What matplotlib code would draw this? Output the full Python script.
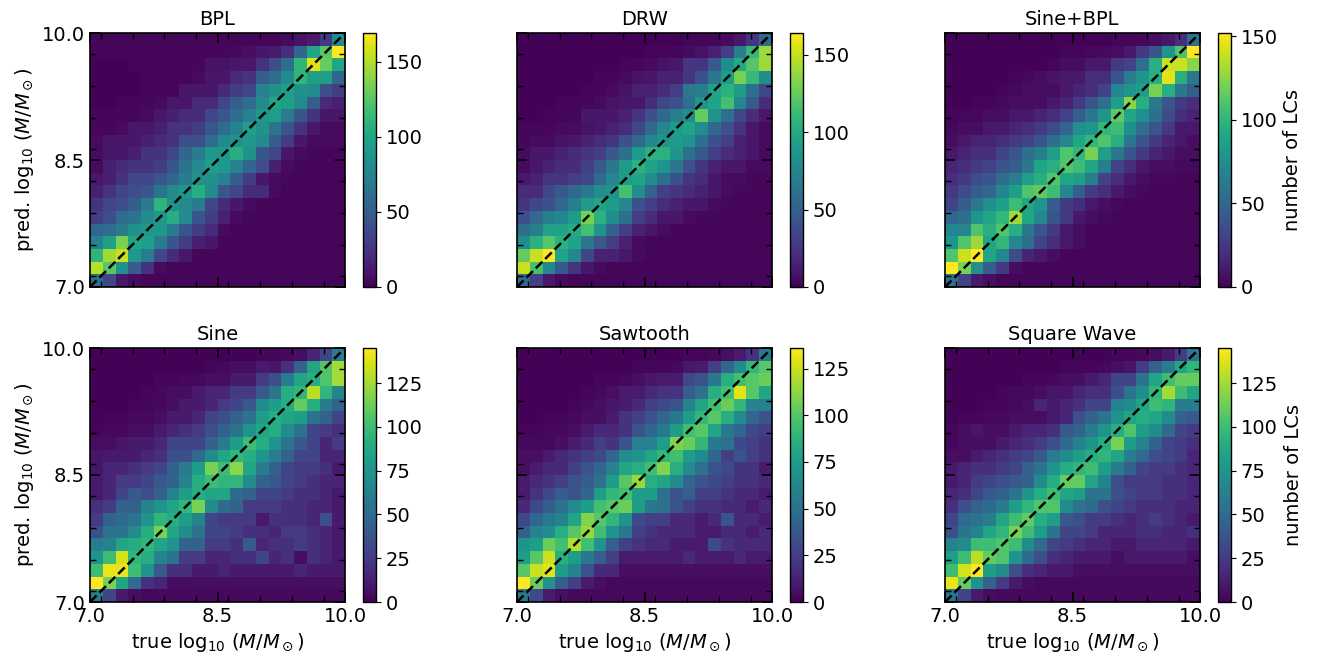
import numpy as np
import matplotlib
matplotlib.use('Agg')
from matplotlib import pyplot as plt
from matplotlib.ticker import MultipleLocator

# counts per 0.15 dex bin, rows listed from top (pred. 10.0) to bottom (pred. 7.0),
# columns from true 7.0 to true 10.0
titles = ['BPL', 'DRW', 'Sine+BPL', 'Sine', 'Sawtooth', 'Square Wave']

bpl = [
    [2, 2, 2, 2, 2, 2, 2, 2, 2, 2, 2, 2, 2, 2, 3, 5, 8, 12, 28, 80],
    [2, 2, 2, 2, 2, 2, 2, 2, 2, 2, 3, 4, 6, 10, 12, 22, 55, 100, 125, 169],
    [1, 1, 1, 2, 2, 2, 2, 2, 3, 8, 8, 10, 10, 25, 40, 60, 110, 160, 130, 100],
    [1, 1, 1, 1, 2, 2, 2, 3, 5, 10, 10, 20, 25, 50, 60, 80, 110, 95, 95, 55],
    [1, 1, 1, 1, 2, 2, 3, 10, 10, 10, 20, 30, 35, 75, 85, 95, 85, 80, 40, 30],
    [1, 1, 2, 2, 3, 5, 10, 10, 20, 20, 35, 50, 60, 80, 100, 95, 80, 50, 20, 15],
    [2, 2, 3, 3, 5, 10, 15, 20, 20, 35, 45, 60, 75, 90, 95, 70, 45, 25, 10, 10],
    [3, 3, 5, 10, 10, 15, 25, 25, 30, 45, 60, 75, 95, 85, 65, 45, 25, 10, 5, 5],
    [5, 10, 10, 10, 15, 20, 25, 40, 40, 60, 80, 85, 90, 80, 50, 30, 10, 5, 5, 5],
    [5, 10, 10, 15, 25, 25, 35, 55, 70, 90, 90, 105, 85, 45, 35, 10, 5, 3, 3, 3],
    [5, 15, 20, 25, 25, 30, 45, 65, 80, 95, 90, 75, 55, 40, 15, 5, 3, 3, 3, 2],
    [10, 15, 25, 35, 35, 45, 55, 70, 85, 85, 75, 50, 30, 10, 5, 3, 2, 2, 2, 2],
    [15, 25, 35, 40, 45, 65, 80, 90, 105, 80, 45, 35, 20, 20, 5, 2, 2, 2, 2, 2],
    [25, 35, 40, 50, 70, 110, 85, 80, 70, 35, 20, 10, 5, 3, 2, 2, 2, 2, 2, 2],
    [30, 40, 60, 65, 80, 90, 105, 80, 45, 30, 15, 5, 2, 2, 2, 2, 2, 2, 2, 2],
    [55, 60, 70, 85, 90, 90, 70, 45, 30, 20, 5, 2, 2, 2, 2, 2, 2, 2, 2, 2],
    [75, 95, 135, 100, 95, 70, 45, 30, 15, 10, 2, 2, 2, 2, 2, 2, 2, 2, 2, 2],
    [110, 145, 155, 90, 70, 35, 20, 10, 3, 2, 2, 2, 2, 2, 2, 2, 2, 2, 2, 2],
    [150, 125, 85, 50, 25, 5, 2, 2, 2, 2, 2, 2, 2, 2, 2, 2, 2, 2, 2, 2],
    [60, 35, 10, 5, 2, 2, 2, 2, 2, 2, 2, 2, 2, 2, 2, 2, 2, 2, 2, 2],
]

drw = [
    [1, 1, 1, 1, 1, 1, 1, 1, 1, 1, 1, 1, 1, 2, 2, 3, 5, 10, 25, 55],
    [1, 1, 1, 1, 1, 1, 1, 1, 1, 1, 2, 2, 3, 5, 8, 15, 30, 70, 110, 140],
    [1, 1, 1, 1, 1, 1, 1, 1, 2, 3, 5, 8, 10, 25, 25, 45, 80, 100, 120, 140],
    [1, 1, 1, 1, 1, 1, 2, 3, 5, 8, 10, 15, 15, 25, 40, 65, 90, 130, 110, 80],
    [1, 1, 1, 1, 1, 2, 3, 5, 8, 15, 15, 20, 30, 65, 70, 95, 105, 90, 60, 35],
    [1, 1, 1, 2, 2, 3, 5, 8, 10, 10, 20, 35, 40, 60, 85, 95, 115, 75, 45, 20],
    [1, 1, 2, 2, 3, 10, 10, 10, 15, 25, 40, 55, 70, 80, 125, 85, 60, 35, 20, 10],
    [2, 2, 3, 5, 5, 8, 10, 15, 20, 35, 55, 75, 90, 95, 80, 55, 40, 25, 10, 5],
    [3, 5, 5, 8, 10, 15, 20, 25, 40, 55, 75, 85, 90, 85, 60, 40, 30, 15, 10, 5],
    [5, 10, 10, 15, 20, 25, 30, 45, 60, 90, 105, 105, 85, 60, 45, 30, 20, 15, 10, 5],
    [5, 10, 15, 20, 20, 30, 45, 65, 90, 105, 95, 85, 65, 40, 25, 15, 10, 10, 5, 5],
    [10, 15, 25, 25, 30, 35, 55, 75, 90, 95, 80, 60, 40, 25, 20, 10, 5, 5, 3, 3],
    [20, 20, 35, 45, 55, 65, 80, 85, 115, 80, 50, 30, 25, 20, 15, 10, 5, 3, 3, 3],
    [25, 35, 40, 55, 70, 90, 95, 90, 75, 40, 30, 20, 15, 10, 10, 5, 3, 2, 2, 2],
    [40, 55, 70, 75, 90, 130, 105, 80, 60, 30, 20, 10, 10, 5, 3, 2, 2, 2, 2, 2],
    [60, 70, 95, 95, 100, 115, 85, 50, 30, 15, 10, 5, 3, 2, 2, 2, 2, 2, 2, 2],
    [80, 105, 120, 105, 95, 65, 45, 30, 15, 5, 3, 2, 2, 2, 2, 2, 2, 2, 2, 2],
    [125, 150, 164, 95, 75, 35, 15, 15, 10, 5, 2, 2, 2, 2, 2, 2, 2, 2, 2, 2],
    [150, 115, 75, 45, 25, 10, 5, 2, 2, 2, 2, 2, 2, 2, 2, 2, 2, 2, 2, 2],
    [55, 30, 10, 5, 2, 2, 2, 2, 2, 2, 2, 2, 2, 2, 2, 2, 2, 2, 2, 2],
]

sine_bpl = [
    [1, 1, 1, 1, 1, 1, 1, 1, 1, 1, 1, 1, 1, 2, 2, 3, 5, 10, 20, 55],
    [1, 1, 1, 1, 1, 1, 1, 1, 1, 2, 2, 3, 4, 5, 10, 25, 40, 80, 110, 152],
    [1, 1, 1, 1, 1, 1, 1, 1, 2, 5, 5, 10, 10, 25, 30, 55, 95, 140, 140, 125],
    [1, 1, 1, 1, 1, 2, 3, 5, 8, 10, 10, 20, 20, 40, 65, 80, 95, 145, 95, 60],
    [1, 1, 1, 1, 2, 3, 5, 5, 5, 10, 15, 20, 30, 70, 80, 85, 120, 95, 60, 45],
    [1, 1, 2, 2, 3, 5, 5, 5, 10, 15, 25, 40, 55, 85, 125, 95, 60, 40, 25, 20],
    [2, 3, 3, 5, 5, 10, 10, 15, 20, 30, 45, 60, 80, 115, 90, 75, 55, 35, 20, 15],
    [3, 5, 5, 10, 10, 15, 20, 25, 35, 50, 75, 80, 100, 105, 75, 55, 40, 25, 10, 10],
    [5, 10, 15, 15, 20, 25, 30, 40, 55, 70, 90, 100, 110, 95, 60, 40, 25, 15, 10, 5],
    [10, 15, 20, 20, 30, 40, 55, 65, 85, 110, 100, 120, 85, 60, 40, 25, 15, 10, 5, 5],
    [15, 20, 25, 30, 40, 45, 60, 90, 95, 110, 105, 90, 65, 30, 20, 10, 5, 5, 3, 3],
    [20, 25, 35, 40, 55, 65, 85, 95, 110, 90, 85, 65, 30, 20, 10, 5, 3, 3, 2, 2],
    [25, 35, 45, 50, 70, 85, 110, 115, 105, 70, 45, 25, 20, 10, 5, 3, 2, 2, 2, 2],
    [30, 45, 60, 75, 85, 105, 90, 80, 45, 25, 20, 10, 5, 3, 2, 2, 2, 2, 2, 2],
    [50, 55, 80, 90, 100, 130, 90, 70, 40, 25, 10, 5, 3, 2, 2, 2, 2, 2, 2, 2],
    [70, 70, 110, 95, 110, 95, 60, 40, 25, 10, 5, 2, 2, 2, 2, 2, 2, 2, 2, 2],
    [80, 110, 130, 90, 100, 70, 55, 30, 20, 10, 5, 2, 2, 2, 2, 2, 2, 2, 2, 2],
    [110, 140, 152, 90, 70, 35, 15, 10, 5, 2, 2, 2, 2, 2, 2, 2, 2, 2, 2, 2],
    [152, 120, 75, 45, 25, 5, 2, 2, 2, 2, 2, 2, 2, 2, 2, 2, 2, 2, 2, 2],
    [55, 30, 10, 5, 2, 2, 2, 2, 2, 2, 2, 2, 2, 2, 2, 2, 2, 2, 2, 2],
]

sine = [
    [1, 1, 1, 1, 1, 1, 1, 1, 1, 1, 1, 1, 1, 2, 2, 3, 5, 15, 30, 60],
    [1, 1, 1, 1, 1, 1, 1, 1, 1, 2, 3, 5, 5, 10, 8, 20, 45, 85, 105, 125],
    [1, 1, 1, 1, 1, 2, 2, 3, 3, 5, 5, 10, 10, 25, 35, 60, 85, 90, 105, 125],
    [1, 1, 1, 1, 2, 3, 5, 5, 10, 15, 15, 25, 25, 40, 55, 90, 95, 130, 95, 65],
    [1, 1, 1, 2, 2, 3, 5, 10, 10, 15, 25, 30, 40, 70, 80, 90, 110, 90, 60, 45],
    [1, 2, 2, 3, 3, 5, 10, 10, 15, 30, 35, 45, 55, 80, 90, 85, 80, 55, 45, 30],
    [2, 3, 3, 5, 5, 10, 15, 20, 25, 35, 45, 55, 75, 85, 90, 70, 55, 30, 25, 20],
    [5, 5, 8, 10, 10, 15, 30, 30, 30, 45, 60, 80, 100, 90, 75, 55, 40, 30, 15, 25],
    [8, 10, 10, 10, 15, 20, 35, 35, 50, 70, 85, 95, 90, 75, 60, 45, 30, 30, 15, 15],
    [8, 15, 15, 20, 25, 30, 45, 60, 80, 115, 100, 120, 85, 60, 45, 30, 25, 25, 20, 10],
    [10, 15, 25, 25, 30, 40, 45, 65, 90, 100, 95, 95, 70, 45, 40, 30, 25, 20, 15, 15],
    [10, 15, 30, 40, 35, 45, 65, 80, 90, 85, 85, 50, 45, 30, 30, 25, 20, 20, 15, 10],
    [20, 25, 45, 45, 65, 75, 85, 95, 115, 70, 50, 45, 25, 25, 25, 20, 20, 15, 15, 10],
    [25, 45, 50, 55, 75, 95, 90, 80, 65, 30, 25, 25, 25, 10, 20, 20, 20, 15, 35, 10],
    [35, 55, 55, 70, 90, 115, 85, 70, 55, 30, 30, 25, 20, 20, 15, 25, 25, 20, 15, 10],
    [60, 65, 85, 90, 95, 85, 75, 45, 45, 25, 25, 20, 40, 15, 20, 20, 25, 20, 15, 10],
    [75, 100, 135, 95, 90, 65, 55, 25, 25, 15, 15, 20, 20, 30, 15, 20, 5, 20, 15, 10],
    [100, 140, 140, 100, 75, 40, 20, 20, 10, 10, 15, 10, 10, 10, 10, 10, 15, 10, 10, 10],
    [145, 115, 85, 50, 20, 15, 5, 5, 5, 5, 5, 5, 5, 5, 5, 5, 5, 5, 5, 5],
    [60, 30, 10, 5, 3, 3, 3, 3, 3, 3, 3, 3, 3, 3, 3, 3, 3, 3, 3, 3],
]

sawtooth = [
    [1, 1, 1, 1, 1, 1, 1, 1, 1, 1, 1, 1, 1, 2, 2, 3, 5, 10, 20, 55],
    [1, 1, 1, 1, 1, 1, 1, 1, 1, 2, 2, 2, 3, 8, 10, 25, 45, 65, 90, 100],
    [1, 1, 1, 1, 1, 1, 2, 2, 3, 5, 8, 10, 10, 30, 35, 55, 85, 95, 100, 105],
    [1, 1, 1, 1, 1, 2, 3, 5, 10, 10, 15, 20, 20, 40, 50, 85, 95, 130, 100, 80],
    [1, 1, 1, 1, 2, 3, 5, 8, 10, 15, 25, 30, 35, 60, 80, 95, 105, 90, 60, 60],
    [1, 1, 2, 2, 3, 5, 5, 10, 20, 25, 35, 45, 55, 75, 90, 100, 85, 65, 45, 35],
    [2, 2, 3, 3, 5, 10, 15, 15, 20, 35, 45, 55, 75, 95, 100, 80, 55, 45, 30, 25],
    [3, 3, 3, 5, 10, 15, 25, 20, 35, 60, 60, 75, 110, 105, 90, 55, 50, 30, 25, 20],
    [5, 5, 10, 15, 20, 25, 30, 45, 65, 70, 80, 90, 95, 75, 65, 45, 25, 35, 25, 20],
    [5, 10, 15, 15, 25, 35, 45, 60, 80, 85, 95, 110, 85, 65, 50, 35, 30, 20, 20, 10],
    [10, 15, 20, 25, 35, 40, 50, 75, 100, 115, 85, 80, 65, 45, 35, 30, 25, 20, 20, 15],
    [10, 20, 30, 40, 35, 45, 75, 90, 95, 75, 75, 50, 35, 40, 25, 25, 20, 15, 15, 10],
    [15, 30, 40, 50, 65, 75, 95, 100, 105, 75, 55, 50, 35, 25, 20, 20, 15, 15, 10, 15],
    [30, 45, 55, 60, 80, 110, 100, 90, 70, 30, 25, 25, 15, 15, 10, 15, 35, 15, 15, 10],
    [40, 60, 65, 85, 100, 115, 95, 70, 55, 25, 20, 15, 15, 15, 10, 10, 15, 15, 10, 15],
    [70, 75, 105, 95, 120, 95, 70, 40, 25, 20, 15, 15, 10, 10, 10, 30, 20, 15, 15, 15],
    [75, 100, 125, 85, 75, 55, 40, 25, 10, 10, 10, 10, 10, 15, 10, 10, 10, 15, 10, 10],
    [100, 125, 130, 75, 60, 35, 15, 15, 5, 5, 5, 5, 5, 5, 5, 5, 5, 5, 5, 5],
    [136, 105, 70, 40, 25, 10, 5, 3, 3, 3, 3, 3, 3, 3, 3, 3, 3, 3, 3, 3],
    [55, 30, 10, 5, 3, 3, 3, 3, 3, 3, 3, 3, 3, 3, 3, 3, 3, 3, 3, 3],
]

square = [
    [1, 1, 1, 1, 1, 1, 1, 1, 1, 1, 1, 1, 1, 2, 2, 3, 5, 10, 25, 55],
    [1, 1, 1, 1, 1, 1, 1, 1, 1, 2, 2, 2, 3, 5, 8, 25, 45, 60, 85, 95],
    [1, 1, 1, 1, 1, 1, 2, 2, 3, 5, 5, 10, 15, 30, 30, 55, 85, 100, 110, 110],
    [1, 1, 1, 1, 2, 3, 3, 5, 8, 8, 15, 20, 20, 35, 55, 70, 95, 125, 100, 85],
    [1, 1, 1, 2, 2, 3, 5, 15, 10, 15, 20, 30, 30, 65, 70, 85, 100, 95, 60, 60],
    [1, 2, 2, 3, 3, 5, 5, 5, 10, 15, 35, 45, 55, 75, 85, 90, 85, 70, 45, 40],
    [3, 5, 8, 5, 5, 10, 15, 15, 20, 40, 45, 60, 75, 90, 105, 80, 70, 50, 30, 25],
    [3, 5, 5, 5, 10, 15, 20, 25, 35, 50, 65, 75, 90, 115, 80, 65, 45, 30, 25, 20],
    [5, 5, 10, 15, 20, 25, 30, 40, 60, 70, 80, 90, 95, 85, 60, 50, 35, 30, 25, 15],
    [10, 15, 20, 20, 25, 30, 45, 55, 75, 90, 95, 100, 80, 60, 45, 30, 25, 25, 20, 15],
    [10, 15, 25, 30, 35, 40, 45, 70, 90, 110, 110, 85, 65, 35, 25, 25, 25, 20, 20, 15],
    [15, 20, 30, 40, 45, 55, 75, 90, 100, 85, 80, 55, 55, 35, 30, 25, 25, 20, 20, 15],
    [20, 35, 45, 50, 60, 80, 95, 105, 105, 70, 55, 50, 35, 30, 25, 20, 20, 20, 15, 15],
    [30, 50, 55, 60, 85, 100, 110, 90, 80, 40, 35, 25, 25, 20, 15, 20, 25, 20, 15, 10],
    [35, 55, 65, 85, 95, 115, 100, 80, 55, 30, 30, 25, 15, 15, 15, 20, 20, 15, 15, 20],
    [65, 70, 100, 100, 105, 100, 70, 50, 30, 25, 20, 15, 15, 10, 10, 15, 15, 15, 15, 10],
    [80, 100, 130, 110, 105, 75, 50, 35, 20, 15, 10, 10, 10, 5, 10, 10, 10, 10, 10, 5],
    [100, 135, 145, 80, 70, 35, 20, 15, 10, 10, 5, 5, 5, 5, 5, 5, 5, 5, 5, 5],
    [140, 110, 75, 45, 25, 10, 5, 3, 3, 3, 3, 3, 3, 3, 3, 3, 3, 3, 3, 3],
    [55, 30, 10, 5, 3, 3, 3, 3, 3, 3, 3, 3, 3, 3, 3, 3, 3, 3, 3, 3],
]

panels = [bpl, drw, sine_bpl, sine, sawtooth, square]
cbar_steps = [50, 50, 50, 25, 25, 25]

edges = np.linspace(7.0, 10.0, 21)

plt.rcParams['font.size'] = 14

W, H = 1322, 660
lefts = [90, 517, 945]
tops = [33, 348]
aw, ah = 255, 254

fig = plt.figure(figsize=(W / 100, H / 100), dpi=100)

for k, (name, counts) in enumerate(zip(titles, panels)):
    row, col = divmod(k, 3)
    x0, y0 = lefts[col], tops[row]
    ax = fig.add_axes([x0 / W, 1 - (y0 + ah) / H, aw / W, ah / H])
    c = np.flipud(np.array(counts, dtype=float))
    mesh = ax.pcolormesh(edges, edges, c, cmap='viridis', vmin=0, vmax=c.max())
    ax.plot([7, 10], [7, 10], 'k--', lw=1.8)
    ax.set_xlim(7, 10)
    ax.set_ylim(7, 10)
    ax.set_title(name, fontsize=14)

    ax.set_xticks([7.0, 8.5, 10.0])
    ax.set_yticks([7.0, 8.5, 10.0])
    ax.xaxis.set_minor_locator(MultipleLocator(0.375))
    ax.yaxis.set_minor_locator(MultipleLocator(0.375))
    ax.tick_params(which='both', direction='in', top=True, right=True)
    ax.tick_params(which='major', length=7, width=1.2)
    ax.tick_params(which='minor', length=4, width=1.0)
    for s in ax.spines.values():
        s.set_linewidth(1.2)

    if row == 0:
        ax.set_xticklabels([])
    else:
        ax.set_xticklabels(['7.0', '8.5', '10.0'])
        ax.set_xlabel(r'true $\log_{10}\,(M/M_\odot)$')
    if col == 0:
        ax.set_yticklabels(['7.0', '8.5', '10.0'])
        ax.set_ylabel(r'pred. $\log_{10}\,(M/M_\odot)$')
    else:
        ax.set_yticklabels([])

    cax = fig.add_axes([(x0 + 273) / W, 1 - (y0 + ah) / H, 13 / W, ah / H])
    cb = fig.colorbar(mesh, cax=cax)
    cb.locator = MultipleLocator(cbar_steps[k])
    cb.update_ticks()
    cb.outline.set_linewidth(1.0)
    if col == 2:
        cb.set_label('number of LCs')

fig.savefig('out.png', dpi=100)
